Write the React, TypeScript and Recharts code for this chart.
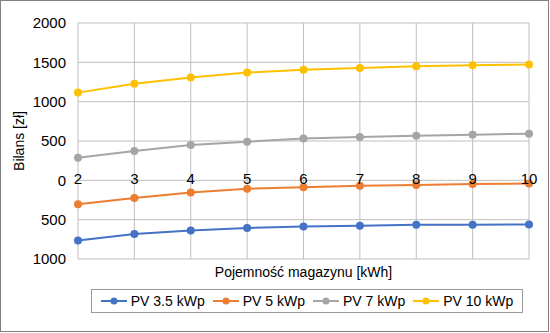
import { LineChart, Line, XAxis, YAxis, CartesianGrid, Legend } from 'recharts'

const capacities = ['2', '3', '4', '5', '6', '7', '8', '9', '10']
const pv35 = [-765, -683, -637, -605, -586, -577, -566, -564, -560]
const pv5 = [-303, -226, -154, -106, -88, -70, -60, -47, -40]
const pv7 = [286, 372, 449, 492, 532, 552, 567, 580, 592]
const pv10 = [1115, 1227, 1308, 1370, 1406, 1428, 1449, 1462, 1474]
const yTicks = [-1000, -500, 0, 500, 1000, 1500, 2000]

const series = [
  { key: 'pv35', name: 'PV 3.5 kWp', color: '#4472C4', values: pv35 },
  { key: 'pv5', name: 'PV 5 kWp', color: '#ED7D31', values: pv5 },
  { key: 'pv7', name: 'PV 7 kWp', color: '#A5A5A5', values: pv7 },
  { key: 'pv10', name: 'PV 10 kWp', color: '#FFC000', values: pv10 },
]

const data = capacities.map((c, i) => {
  const row: Record<string, string | number> = { cap: c }
  series.forEach(s => { row[s.key] = s.values[i] })
  return row
})

const font = '"Liberation Sans", Arial, sans-serif'

// x tick labels sit on the zero line, not at the bottom of the plot
const ZeroTick = (props: any) => {
  const { x, y, payload } = props
  return (
    <text x={x} y={y} dy={-83} textAnchor="middle" fontSize={15} fill="#000" fontFamily={font}>
      {payload.value}
    </text>
  )
}

const LegendBox = () => (
  <div style={{
    border: '1px solid #999', height: 24, display: 'flex', alignItems: 'center',
    justifyContent: 'center', gap: 8, fontFamily: font, fontSize: 14, color: '#000',
    boxSizing: 'border-box', background: '#fff'
  }}>
    {series.map(s => (
      <span key={s.key} style={{ display: 'flex', alignItems: 'center', gap: 4 }}>
        <svg width={26} height={10}>
          <line x1={0} y1={5} x2={26} y2={5} stroke={s.color} strokeWidth={2} />
          <circle cx={13} cy={5} r={3.5} fill={s.color} />
        </svg>
        {s.name}
      </span>
    ))}
  </div>
)

export default function App() {
  return (
    <div style={{ position: 'absolute', left: 0, top: 0, width: 550, height: 333 }}>
      <div style={{
        position: 'absolute', left: 0, top: 0, width: 549, height: 332,
        border: '1px solid #808080', boxSizing: 'border-box'
      }} />
      <LineChart width={550} height={333} data={data}
        margin={{ top: 23, right: 21, left: 0, bottom: 0 }}>
        <CartesianGrid stroke="#BFBFBF" strokeWidth={1} />
        <XAxis dataKey="cap" axisLine={false} tickLine={false} tick={<ZeroTick />}
          height={48} interval={0}
          label={{ value: 'Pojemność magazynu [kWh]', position: 'insideTop', offset: 8,
            fontSize: 14, fill: '#000', fontFamily: font }} />
        <YAxis domain={[-1000, 2000]} ticks={yTicks} axisLine={false} tickLine={false}
          width={78} tickMargin={6} interval={0}
          tickFormatter={(v: number) => String(Math.abs(v))}
          tick={{ fontSize: 15, fill: '#000', fontFamily: font }}
          label={{ value: 'Bilans [zł]', angle: -90, position: 'insideLeft', offset: 19,
            fontSize: 14, fill: '#000', fontFamily: font, style: { textAnchor: 'middle' } }} />
        <Legend content={<LegendBox />}
          wrapperStyle={{ left: 91, top: 289, width: 432, height: 26 }} />
        {series.map(s => (
          <Line key={s.key} dataKey={s.key} name={s.name} stroke={s.color} strokeWidth={2}
            dot={{ r: 4, fill: s.color, stroke: s.color, strokeWidth: 0 }}
            activeDot={false} isAnimationActive={false} />
        ))}
      </LineChart>
    </div>
  )
}
